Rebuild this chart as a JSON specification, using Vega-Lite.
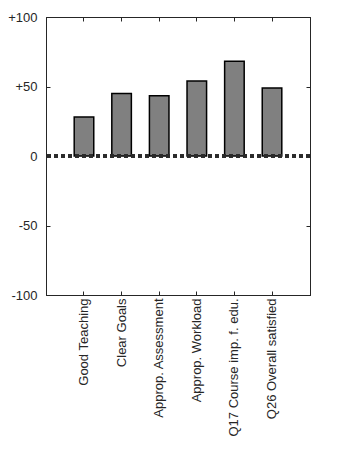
{
  "$schema": "https://vega.github.io/schema/vega-lite/v6.json",
  "width": 264,
  "height": 278,
  "autosize": "none",
  "padding": {"left": 46, "top": 17, "right": 44, "bottom": 177},
  "background": "white",
  "config": {
    "view": {"stroke": "#262626", "strokeWidth": 1},
    "axis": {"labelFont": "Liberation Sans", "labelFontSize": 13, "labelColor": "#262626", "domainColor": "#262626", "tickColor": "#262626", "grid": false, "title": null, "domainWidth": 1, "tickWidth": 1}
  },
  "data": {"values": [
    {"item": "Good Teaching", "score": 28},
    {"item": "Clear Goals", "score": 45},
    {"item": "Approp. Assessment", "score": 43.3},
    {"item": "Approp. Workload", "score": 54},
    {"item": "Q17 Course imp. f. edu.", "score": 68.2},
    {"item": "Q26 Overall satisfied", "score": 49}
  ]},
  "layer": [
    {
      "mark": {"type": "bar", "fill": "#808080", "stroke": "#000000", "strokeWidth": 1.5},
      "encoding": {
        "x": {"field": "item", "type": "nominal", "sort": null,
              "scale": {"paddingInner": 0.48, "paddingOuter": 0.75},
              "axis": {"orient": "bottom", "labelAngle": -90, "labelAlign": "right", "labelBaseline": "middle", "tickSize": -4, "labelPadding": 7}},
        "y": {"field": "score", "type": "quantitative",
              "scale": {"domain": [-100, 100], "nice": false},
              "axis": {"orient": "left", "values": [-100, -50, 0, 50, 100], "tickSize": -4, "labelPadding": 13, "labelExpr": "datum.value > 0 ? '+' + datum.value : '' + datum.value"}}
      }
    },
    {
      "mark": {"type": "bar", "fillOpacity": 0, "strokeOpacity": 0},
      "encoding": {
        "x": {"field": "item", "type": "nominal", "sort": null,
              "axis": {"orient": "top", "labels": false, "domain": true, "ticks": true, "tickSize": -4}},
        "y": {"field": "score", "type": "quantitative",
              "axis": {"orient": "right", "labels": false, "domain": true, "ticks": true, "values": [-100, -50, 0, 50, 100], "tickSize": -4}}
      }
    },
    {
      "mark": {"type": "rule", "stroke": "#2a2a2a", "strokeWidth": 3, "strokeDash": [4, 3]},
      "encoding": {"y": {"datum": 0, "axis": null}}
    }
  ],
  "resolve": {"axis": {"x": "independent", "y": "independent"}}
}
